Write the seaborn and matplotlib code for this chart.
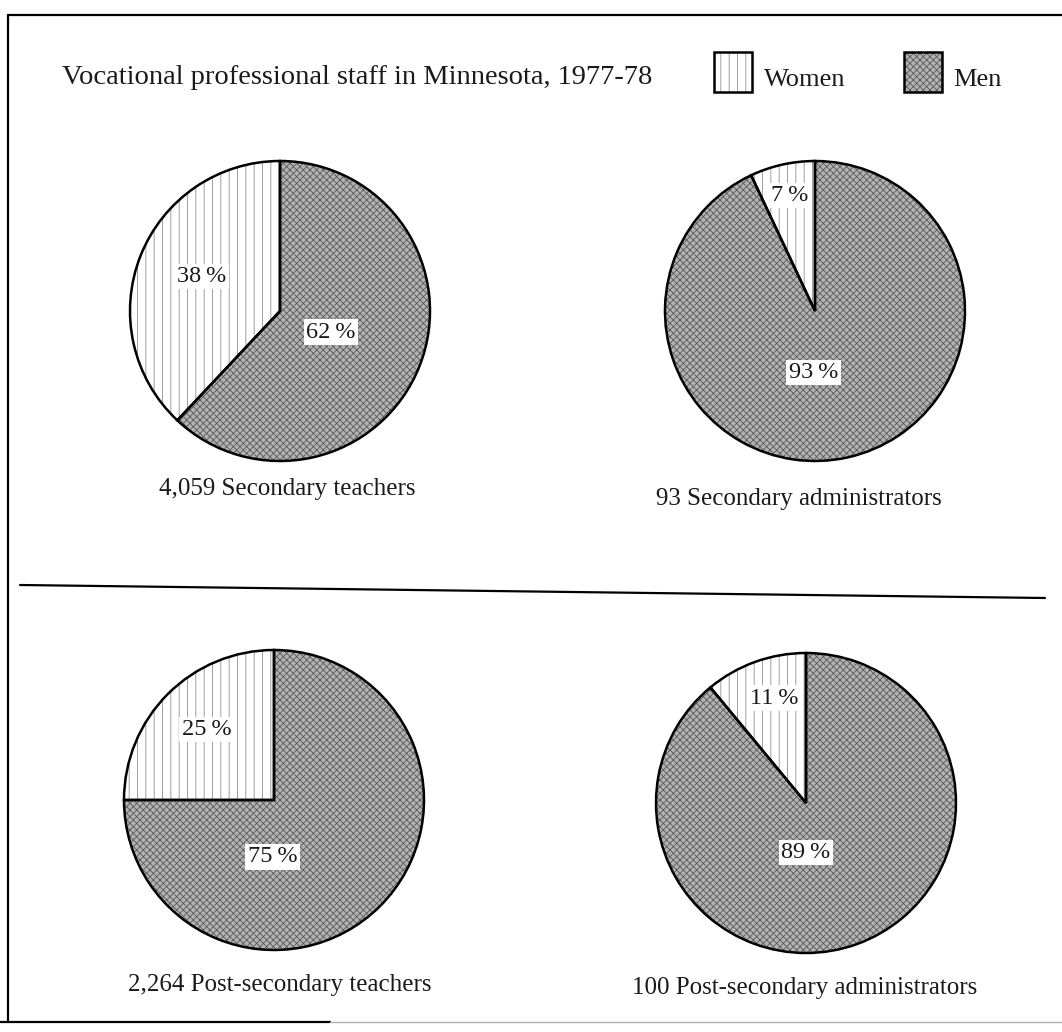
import matplotlib
matplotlib.use("Agg")
import matplotlib.pyplot as plt
from matplotlib.patches import Rectangle
from matplotlib.lines import Line2D
import seaborn as sns

# ---- data -------------------------------------------------------------
title = "Vocational professional staff in Minnesota, 1977-78"
series_names = ["Women", "Men"]
groups = [
    "4,059 Secondary teachers",
    "93 Secondary administrators",
    "2,264 Post-secondary teachers",
    "100 Post-secondary administrators",
]
women_pct = [38, 7, 25, 11]
men_pct = [62, 93, 75, 89]

# ---- layout (pixels on a 1062 x 1032 canvas) --------------------------
W, H = 1062, 1032
R = 150
centers = [(280, 311), (815, 311), (274, 800), (806, 803)]
caption_xy = [(287, 489), (799, 499), (280, 985), (805, 988)]
# label offsets in units of the pie radius (x right, y up)
women_label_xy = [(-0.52, 0.23), (-0.17, 0.77), (-0.45, 0.47), (-0.21, 0.70)]
men_label_xy = [(0.34, -0.14), (-0.01, -0.41), (-0.01, -0.38), (0.0, -0.33)]

sns.set_style("white")
plt.rcParams["font.family"] = ["Liberation Serif", "DejaVu Serif"]
plt.rcParams["hatch.linewidth"] = 0.6
plt.rcParams["text.color"] = "#1a1a1a"

FS_TITLE, FS_LEGEND, FS_CAPTION, FS_LABEL = 20.5, 19, 18, 17.5
women_style = dict(facecolor="white", hatch="||", edgecolor="#8f8f8f")
men_style = dict(facecolor="#b2b2b2", hatch="xxxxx", edgecolor="#5a5a5a")

fig = plt.figure(figsize=(W / 100, H / 100), dpi=100)
fig.patch.set_facecolor("white")


def fx(x):
    return x / W


def fy(y):
    return 1 - y / H


for i, name in enumerate(groups):
    cx, cy = centers[i]
    ax = fig.add_axes([fx(cx - R), fy(cy + R), 2 * R / W, 2 * R / H])
    vals = [women_pct[i], men_pct[i]]
    # hatched fills
    wedges, _ = ax.pie(vals, startangle=90, counterclock=True, radius=1,
                       wedgeprops=dict(linewidth=0))
    for w, st in zip(wedges, [women_style, men_style]):
        w.set_facecolor(st["facecolor"])
        w.set_hatch(st["hatch"])
        w.set_edgecolor(st["edgecolor"])
        w.set_linewidth(0)
    # black outlines on top
    ax.pie(vals, startangle=90, counterclock=True, radius=1,
           wedgeprops=dict(fill=False, edgecolor="black", linewidth=1.8))
    ax.set_xlim(-1.0, 1.0)
    ax.set_ylim(-1.0, 1.0)
    ax.set_aspect("equal")
    ax.axis("off")

    box = dict(boxstyle="square,pad=0.1", facecolor="white", edgecolor="none")
    wx, wy = women_label_xy[i]
    ax.text(wx, wy, f"{women_pct[i]}\u2009%", ha="center", va="center",
            fontsize=FS_LABEL, bbox=box, zorder=5)
    mx, my = men_label_xy[i]
    ax.text(mx, my, f"{men_pct[i]}\u2009%", ha="center", va="center",
            fontsize=FS_LABEL, bbox=box, zorder=5)

    tx, ty = caption_xy[i]
    fig.text(fx(tx), fy(ty), name, ha="center", va="center",
             fontsize=FS_CAPTION)

# title and legend
fig.text(fx(62), fy(78), title, ha="left", va="center", fontsize=FS_TITLE)
for (x0, label_x), name, st in zip([(714, 764), (904, 953)], series_names,
                                   [women_style, men_style]):
    fig.add_artist(Rectangle((fx(x0), fy(92)), 38 / W, 40 / H,
                             transform=fig.transFigure,
                             facecolor=st["facecolor"], hatch=st["hatch"],
                             edgecolor=st["edgecolor"], linewidth=0))
    fig.add_artist(Rectangle((fx(x0), fy(92)), 38 / W, 40 / H,
                             transform=fig.transFigure, fill=False,
                             edgecolor="black", linewidth=1.8))
    fig.text(fx(label_x), fy(80), name, ha="left", va="center",
             fontsize=FS_LEGEND)

# page frame and divider
frame_kw = dict(transform=fig.transFigure, color="black", linewidth=1.6)
fig.add_artist(Line2D([fx(8), fx(1062)], [fy(15), fy(15)], **frame_kw))
fig.add_artist(Line2D([fx(8), fx(8)], [fy(15), fy(1022)], **frame_kw))
fig.add_artist(Line2D([fx(0), fx(330)], [fy(1022), fy(1022)], **frame_kw))
fig.add_artist(Line2D([fx(330), fx(1062)], [fy(1022), fy(1022)],
                      transform=fig.transFigure, color="#b0b0b0",
                      linewidth=1.0))
fig.add_artist(Line2D([fx(20), fx(1045)], [fy(585), fy(598)], **frame_kw))

fig.savefig("out.png", dpi=100, facecolor="white")
